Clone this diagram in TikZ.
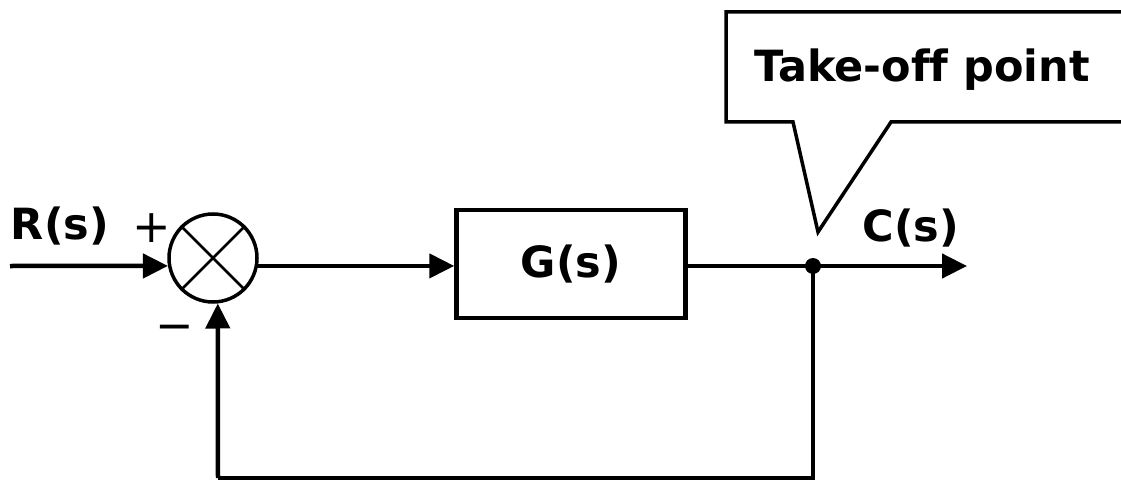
\documentclass[tikz,border=0pt]{standalone}
\usepackage{fontspec}
\setmainfont[Ligatures=NoCommon]{DejaVu Sans}
\usetikzlibrary{arrows.meta}
\begin{document}
\begin{tikzpicture}[x=1pt,y=-1pt,
  line/.style={line width=4.5pt},
  arr/.style={line width=4.5pt,-{Triangle[length=25pt,width=24pt]}},
  lbl/.style={font=\fontsize{43}{48}\selectfont\bfseries, inner sep=0pt},
  sign/.style={font=\fontsize{46}{50}\selectfont, inner sep=0pt},
]
\useasboundingbox (0,0) rectangle (1121,481);
% summing junction
\node[circle, draw, line width=3.5pt, minimum size=88pt, inner sep=0pt] (sum) at (213,258) {};
\draw[line width=2.5pt] (sum.45) -- (sum.225) (sum.135) -- (sum.315);
% block
\node[draw, line width=4.5pt, minimum width=229pt, minimum height=108pt, lbl] (G) at (571,264) {G(s)};
% coordinates
\coordinate (in) at (10,266);
\coordinate (tp) at (813,266);
\coordinate (out) at (967,266);
\coordinate (br) at (813,478);
\coordinate (bl) at (218,478);
% connectors
\draw[arr] (in) -- (sum.190);
\draw[arr] (sum.350) -- (sum.350 -| G.west);
\draw[line] (G.east |- tp) -- (tp);
\draw[arr] (tp) -- (out);
\draw[line, line join=miter] (tp) -- (br) -- (bl);
\draw[arr] (bl) -- (sum.276);
\fill (tp) circle (8pt);
% labels
\node[lbl] (R) at (60,226) {R(s)};
\node[lbl] (C) at (911,228) {C(s)};
\node[sign] (plus) at (152,228) {+};
\node[sign] (minus) at (175,333) {−};
% callout
\node[lbl] (co) at (922,70) {Take-off point};
\coordinate (tip) at (818,232);
\draw[line width=3.5pt, line join=miter] (1126,12) -- (726,12) -- (726,122) -- (793,122) -- (tip) -- (891,122) -- (1126,122);
\end{tikzpicture}
\end{document}
